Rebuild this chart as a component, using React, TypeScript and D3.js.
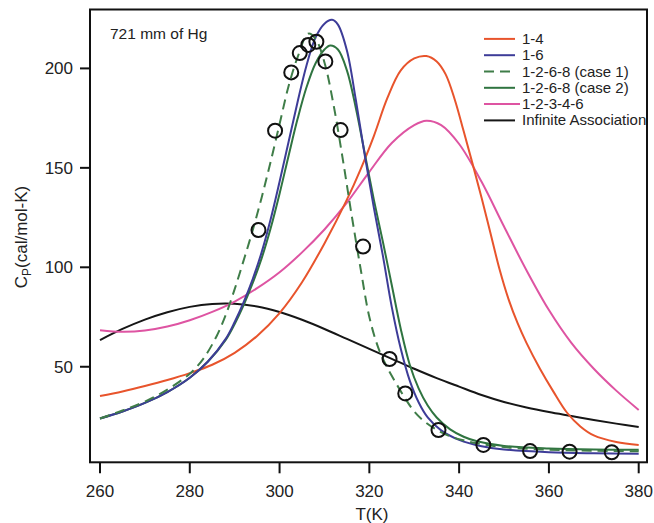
import React from "react";
import * as d3 from "d3";

// ---- data ----
const xTicks = [260, 280, 300, 320, 340, 360, 380];
const yTicks = [50, 100, 150, 200];

const t14 = [260, 265, 270, 275, 280, 285, 290, 295, 300, 305, 310, 315, 318, 321, 324, 327, 330, 332.7, 335, 337, 339, 341, 343, 345, 347, 349, 351, 353, 355, 358, 361, 364, 367, 370, 375, 380];
const cp14 = [35.3, 37.6, 40.3, 43.3, 46.8, 51, 57, 65.5, 77, 92.5, 112, 134, 149, 166, 185, 199, 205, 206.2, 203.5, 197, 184.5, 168.5, 152, 135, 117, 99, 84, 72, 62, 49, 37.5, 27, 20, 15.5, 12.2, 10.7];

const t16 = [260, 265, 270, 275, 280, 284, 288, 290, 292, 294, 296, 298, 300, 302, 304, 306, 308, 310, 311.7, 313, 315, 317, 319, 321, 323, 325, 327, 329, 331, 333, 336, 340, 345, 350, 360, 370, 380];
const cp16 = [24, 27.5, 31.8, 37.3, 44.5, 52.5, 64, 72.5, 82.5, 94, 107.5, 124, 143, 163, 183, 201.5, 215.5, 222.5, 224.4, 222, 209, 184, 156, 130, 106, 80, 59, 43, 32, 24.5, 18, 13.2, 10, 8.4, 7, 6.5, 6.3];

const tCase1 = [260, 265, 270, 275, 280, 283, 286, 288, 290, 292, 294, 296, 298, 300, 302, 304, 306.4, 308, 310, 312, 314, 316, 318, 320, 322, 324, 326, 328, 330, 332, 335, 338, 341, 344, 350, 360, 370, 380];
const cpCase1 = [24, 28, 32.5, 38.5, 46.5, 54, 65.5, 76, 89, 103.5, 118.5, 135, 153, 172, 191, 205.5, 217.5, 215, 203, 182, 155.5, 127, 100, 75, 59.5, 49.5, 41.5, 34, 27.5, 23, 18.3, 15, 13, 11.5, 9.6, 8.3, 7.8, 7.5];

const tCase2 = [260, 265, 270, 275, 280, 284, 288, 290, 292, 294, 296, 298, 300, 302, 304, 306, 308, 310, 311.3, 313, 315, 317, 319, 321, 323, 325, 327, 329, 331, 333, 335, 338, 341, 344, 350, 360, 370, 380];
const cpCase2 = [24, 27.5, 31.8, 37.3, 44.5, 52.5, 63.5, 71.5, 81, 92, 104.5, 119.5, 137, 156, 174.5, 190.5, 202.5, 209.5, 211.5, 209.5, 199, 180, 157, 134, 113, 91, 69, 51, 39, 30.5, 24.5, 18.5, 14.8, 12.5, 10.2, 8.9, 8.4, 8.3];

const t12346 = [260, 265, 270, 275, 280, 285, 290, 295, 300, 305, 310, 315, 320, 325, 330, 332.7, 336, 340, 345, 350, 355, 360, 365, 370, 375, 380];
const cp12346 = [68.4, 67.6, 68.2, 70.2, 73.4, 77.6, 82.8, 89.5, 97.5, 107.5, 119, 132.5, 148, 162.5, 171.5, 173.7, 171.5, 162, 143, 120.5, 98.5, 78.5, 62, 49, 38, 28.3];

const tInf = [260, 265, 270, 275, 280, 285, 290, 295, 300, 305, 310, 315, 320, 325, 330, 335, 340, 345, 350, 355, 360, 365, 370, 375, 380];
const cpInf = [63.4, 69, 73.7, 77.4, 80.1, 81.6, 81.7, 80.3, 77.5, 73.6, 69, 64, 59, 54, 49, 44.3, 40, 35.8, 32.3, 29.5, 27.2, 25.2, 23.2, 21.4, 19.7];

const expT = [295.3, 299.0, 302.6, 304.5, 306.4, 308.2, 310.2, 313.6, 318.6, 324.5, 328.0, 335.4, 345.4, 355.8, 364.6, 374.0];
const expCp = [118.7, 168.7, 198, 207.7, 211.8, 213.4, 203.5, 169, 110.4, 53.9, 36.6, 18.2, 10.7, 7.6, 7.3, 7.0];

const seriesNames = ["1-4", "1-6", "1-2-6-8 (case 1)", "1-2-6-8 (case 2)", "1-2-3-4-6", "Infinite Association"];
const seriesColors = ["#e8542c", "#3d3c98", "#3f7d48", "#2f7440", "#de54a2", "#161616"];
const seriesDash = [null, null, "10,6", null, null, null];
const seriesT = [t14, t16, tCase1, tCase2, t12346, tInf];
const seriesCp = [cp14, cp16, cpCase1, cpCase2, cp12346, cpInf];

const FONT = "'Liberation Sans', Arial, Helvetica, sans-serif";

export default function App() {
  const W = 654, H = 523;
  const left = 90, right = 647, top = 9.5, bottom = 462.3;
  const x = d3.scaleLinear().domain([260, 380]).range([100, 638.7]);
  const y = d3.scaleLinear().domain([0, 230]).range([466.2, 466.2 - 230 * 1.989]);

  const line = d3
    .line<[number, number]>()
    .x((d) => x(d[0]))
    .y((d) => y(d[1]))
    .curve(d3.curveCatmullRom.alpha(0.5));

  const paths = seriesT.map((ts, i) => line(ts.map((t, j) => [t, seriesCp[i][j]] as [number, number])) || "");

  // draw order: background curves first
  const order = [5, 4, 0, 3, 1, 2];

  const legendX1 = 484, legendX2 = 515, legendTextX = 522, legendBase = 43.9, legendStep = 16.3;

  return (
    <svg
      width={W}
      height={H}
      viewBox={`0 0 ${W} ${H}`}
      style={{ position: "absolute", left: 0, top: 0, background: "#fff" }}
      fontFamily={FONT}
    >
      <rect x={0} y={0} width={W} height={H} fill="#fff" />

      {order.map((i) => (
        <path
          key={i}
          d={paths[i]}
          fill="none"
          stroke={seriesColors[i]}
          strokeWidth={2}
          strokeDasharray={seriesDash[i] || undefined}
        />
      ))}

      {expT.map((t, i) => (
        <circle key={i} cx={x(t)} cy={y(expCp[i])} r={7} fill="none" stroke="#111" strokeWidth={2} />
      ))}

      {/* annotation */}
      <text x={110} y={39} fontSize={15.5} fill="#222">721 mm of Hg</text>

      {/* legend */}
      {seriesNames.map((name, i) => {
        const by = legendBase + i * legendStep;
        const ly = by - 5;
        return (
          <g key={name}>
            <line
              x1={legendX1}
              x2={i === 4 ? 520 : legendX2}
              y1={ly}
              y2={ly}
              stroke={seriesColors[i]}
              strokeWidth={2}
              strokeDasharray={seriesDash[i] || undefined}
            />
            <text x={legendTextX} y={by} fontSize={15} fill="#222">{name}</text>
          </g>
        );
      })}

      {/* frame */}
      <rect x={left} y={top} width={right - left} height={bottom - top} fill="none" stroke="#111" strokeWidth={2} />

      {/* y ticks */}
      {yTicks.map((v) => (
        <g key={v}>
          <line x1={left - 10} x2={left} y1={y(v)} y2={y(v)} stroke="#111" strokeWidth={2} />
          <text x={left - 17} y={y(v)} dy="0.35em" textAnchor="end" fontSize={17} fill="#222">{v}</text>
        </g>
      ))}

      {/* x ticks */}
      {xTicks.map((t) => (
        <g key={t}>
          <line x1={x(t)} x2={x(t)} y1={bottom} y2={bottom + 11} stroke="#111" strokeWidth={2} />
          <text x={x(t)} y={497} textAnchor="middle" fontSize={17} fill="#222">{t}</text>
        </g>
      ))}

      {/* axis titles */}
      <text x={372} y={520} textAnchor="middle" fontSize={17} fill="#222">T(K)</text>
      <text transform="translate(27,237) rotate(-90)" textAnchor="middle" fontSize={17} fill="#222">
        C<tspan fontSize={12} dy={4}>P</tspan>
        <tspan dy={-4}>(cal/mol-K)</tspan>
      </text>
    </svg>
  );
}
